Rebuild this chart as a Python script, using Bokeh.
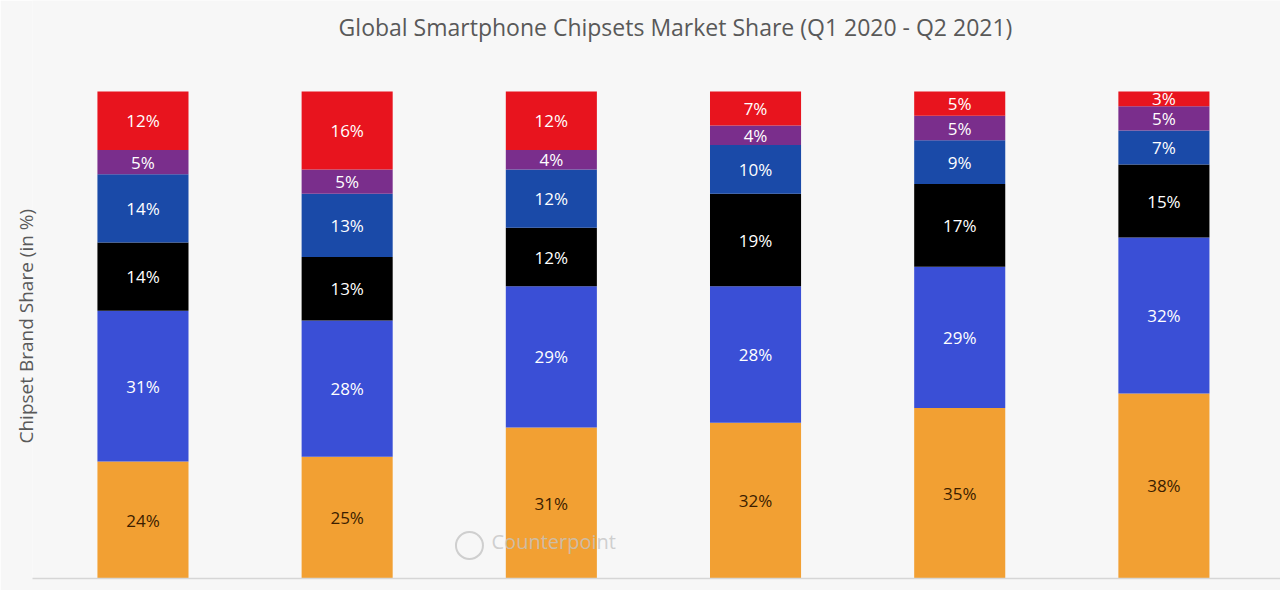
import numpy as np
from bokeh.plotting import figure
from bokeh.models import ColumnDataSource, Range1d, Title, FixedTicker
from bokeh.core.properties import value
from bokeh.embed import file_html
from bokeh.resources import INLINE

# Data (stacked from bottom to top)
periods = ["Q1 2020", "Q2 2020", "Q3 2020", "Q4 2020", "Q1 2021", "Q2 2021"]
brands = ["MediaTek", "Qualcomm", "Apple", "Samsung", "UNISOC", "HiSilicon"]
mediatek = [24, 25, 31, 32, 35, 38]
qualcomm = [31, 28, 29, 28, 29, 32]
apple = [14, 13, 12, 19, 17, 15]
samsung = [14, 13, 12, 10, 9, 7]
unisoc = [5, 5, 4, 4, 5, 5]
hisilicon = [12, 16, 12, 7, 5, 3]

shares = [mediatek, qualcomm, apple, samsung, unisoc, hisilicon]
colors = ["#f2a033", "#3a4fd6", "#000000", "#1a4aa8", "#7a2e8c", "#e8141e"]
label_colors = ["#3b1d00", "#ffffff", "#ffffff", "#ffffff", "#ffffff", "#ffffff"]

font = "Open Sans"
bg = "#f7f7f7"

x = np.arange(len(periods))

p = figure(frame_width=1248, frame_height=578,
           x_range=Range1d(-0.541, 5.571), y_range=Range1d(0, 118.69),
           output_backend="svg", toolbar_location=None,
           min_border_left=32, min_border_right=0, min_border_top=0, min_border_bottom=12,
           background_fill_color=bg, border_fill_color=bg, outline_line_color=None)

# stacked bars + value labels
bottom = np.zeros(len(periods))
for vals, name, col, lcol in zip(shares, brands, colors, label_colors):
    vals = np.array(vals, dtype=float)
    src = ColumnDataSource(data=dict(
        x=x, bottom=bottom, top=bottom + vals,
        mid=bottom + vals / 2, label=[f"{int(v)}%" for v in vals]))
    p.vbar(x="x", bottom="bottom", top="top", width=0.446, source=src,
           fill_color=col, line_color=None)
    p.text(x="x", y="mid", text="label", source=src, text_color=lcol,
           text_font=value(font), text_font_size="17px",
           text_align="center", text_baseline="middle")
    bottom = bottom + vals

# chart title (inside the frame, above the bars)
p.text(x=[2.608], y=[113.3],
       text=["Global Smartphone Chipsets Market Share (Q1 2020 - Q2 2021)"],
       text_font=value(font), text_font_size="23px", text_color="#595959",
       text_align="center", text_baseline="middle")

# watermark
p.scatter(x=[1.599], y=[6.78], marker="circle", size=27, fill_color=None,
          line_color="#c4c4c4", line_width=2, line_alpha=0.8)
p.text(x=[1.707], y=[7.6], text=["Counterpoint"], text_font=value(font),
       text_font_size="20px", text_color="#c4c4c4", text_alpha=0.8,
       text_align="left", text_baseline="middle")

# y axis label
p.add_layout(Title(text="Chipset Brand Share (in %)", align="left",
                   text_font=font, text_font_size="19px", text_font_style="normal",
                   text_color="#595959", offset=135, standoff=-12), "left")

p.yaxis.visible = False
p.xgrid.grid_line_color = None
p.ygrid.grid_line_color = None
p.xaxis.ticker = FixedTicker(ticks=[])
p.xaxis.major_tick_line_color = None
p.xaxis.minor_tick_line_color = None
p.xaxis.major_label_standoff = 0
p.xaxis.axis_line_color = "#d6d6d6"
p.xaxis.axis_line_width = 1.5

open("out.html", "w").write(file_html(p, INLINE))
